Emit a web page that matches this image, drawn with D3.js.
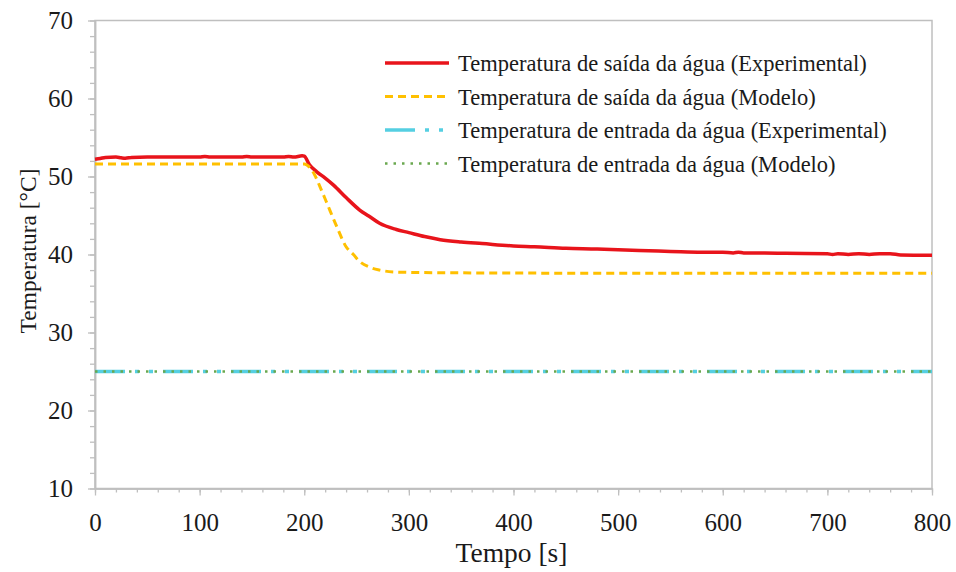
<!doctype html>
<html>
    <head>
        <meta charset="utf-8">
        <script src="https://d3js.org/d3.v7.min.js"></script>
        <style>
            body { margin:0; background:white; }
            text { font-family:"Liberation Serif","Tinos","Times New Roman","DejaVu Serif","Noto Serif",serif; fill:#1a1a1a; }
        </style>
    </head>
    <body>
        <svg id="svg1" width="956" height="572"></svg>
    </body>
    <script>
        // saída experimental
        var tExp = [0,5,10,20,25,29,35,50,100,105,110,140,145,150,180,185,190,198,200,205,212,220,228,240,253,262,272,288,300,315,330,350,370,400,420,450,480,500,520,550,580,600,610,615,620,640,660,700,705,710,720,730,740,750,760,770,800]
        var saidaExp = [52.2,52.3,52.45,52.5,52.4,52.35,52.45,52.5,52.5,52.58,52.5,52.5,52.58,52.5,52.5,52.58,52.5,52.65,52.6,51.5,50.6,49.8,48.9,47.3,45.7,44.9,44.0,43.2,42.8,42.3,41.9,41.6,41.4,41.1,41.0,40.8,40.7,40.6,40.5,40.4,40.3,40.3,40.2,40.3,40.2,40.2,40.15,40.1,40.0,40.1,40.0,40.1,40.0,40.1,40.1,39.95,39.9]
        // saída modelo
        var tMod = [0,100,200,205,210,215,221,231,240,247,253,262,272,288,304,350,500,800]
        var saidaMod = [51.6,51.6,51.6,51.2,50.2,48.7,46.8,43.6,41.0,40.0,39.1,38.4,38.0,37.75,37.7,37.65,37.6,37.6]
        // entrada
        var tEnt = [0,200,400,600,800]
        var entradaExp = [25,25,25,25,25]
        var entradaMod = [25,25,25,25,25]

        var xTicks = [0,100,200,300,400,500,600,700,800]
        var yTicks = [10,20,30,40,50,60,70]
        var legendNames = ["Temperatura de saída da água (Experimental)","Temperatura de saída da água (Modelo)","Temperatura de entrada da água (Experimental)","Temperatura de entrada da água (Modelo)"]

        var svg = d3.select("#svg1")
        var x = d3.scaleLinear().domain([0,800]).range([95,932])
        var y = d3.scaleLinear().domain([10,70]).range([488.5,20.5])
        var gray = "#bfbfbf"

        // frame
        svg.append("rect").attr("x",x(0)).attr("y",y(70)).attr("width",x(800)-x(0)).attr("height",y(10)-y(70))
            .attr("fill","none").attr("stroke",gray).attr("stroke-width",1.5)

        // minor ticks
        svg.append("g").attr("transform","translate(0,"+y(10)+")")
            .call(d3.axisBottom(x).tickValues(d3.range(0,801,20)).tickSize(4).tickSizeOuter(0).tickFormat(""))
        svg.append("g").attr("transform","translate("+x(0)+",0)")
            .call(d3.axisLeft(y).tickValues(d3.range(10,71,2)).tickSize(5).tickSizeOuter(0).tickFormat(""))

        var gx = svg.append("g").attr("transform","translate(0,"+y(10)+")")
            .call(d3.axisBottom(x).tickValues(xTicks).tickSize(7).tickSizeOuter(0).tickPadding(14))
        var gy = svg.append("g").attr("transform","translate("+x(0)+",0)")
            .call(d3.axisLeft(y).tickValues(yTicks).tickSize(7).tickSizeOuter(0).tickPadding(15))

        svg.selectAll("g").attr("font-family",null)
        svg.selectAll(".domain").attr("stroke",gray).attr("stroke-width",1.5)
        svg.selectAll(".tick line").attr("stroke",gray).attr("stroke-width",1.3)
        svg.selectAll(".tick text").style("font-size","25px").attr("fill","#1a1a1a")
        gx.selectAll(".tick text").attr("dy","0.85em")

        function line(xs,ys) {
            return d3.line().curve(d3.curveMonotoneX).x(function(d,i){ return x(xs[i]) }).y(function(d){ return y(d) })(ys)
        }

        var series = [
            {t:tExp, v:saidaExp, color:"#e8141b", width:3.5, dash:null},
            {t:tMod, v:saidaMod, color:"#ffc000", width:3, dash:"8,5"},
            {t:tEnt, v:entradaExp, color:"#55cfe2", width:3.5, dash:"30,10,4,10,4,10"},
            {t:tEnt, v:entradaMod, color:"#6aa84f", width:2.5, dash:"2.5,6"}
        ]

        series.forEach(function(s){
            svg.append("path").attr("d",line(s.t,s.v)).attr("fill","none")
                .attr("stroke",s.color).attr("stroke-width",s.width)
                .attr("stroke-dasharray",s.dash).attr("stroke-linejoin","round")
        })

        // legend
        var leg = svg.append("g").attr("transform","translate(385,63)")
        series.forEach(function(s,i){
            var ly = i*33.5
            leg.append("line").attr("x1",0).attr("x2",64).attr("y1",ly).attr("y2",ly)
                .attr("stroke",s.color).attr("stroke-width",s.width).attr("stroke-dasharray",s.dash)
            leg.append("text").attr("x",73).attr("y",ly+8).style("font-size","22.5px").text(legendNames[i])
        })

        svg.append("text").attr("text-anchor","middle").attr("x",x(400)-2).attr("y",562)
            .style("font-size","27.5px").text("Tempo [s]")
        svg.append("text").attr("text-anchor","middle").attr("transform","translate(36,251) rotate(-90)")
            .style("font-size","23.5px").text("Temperatura [°C]")
    </script>
</html>
